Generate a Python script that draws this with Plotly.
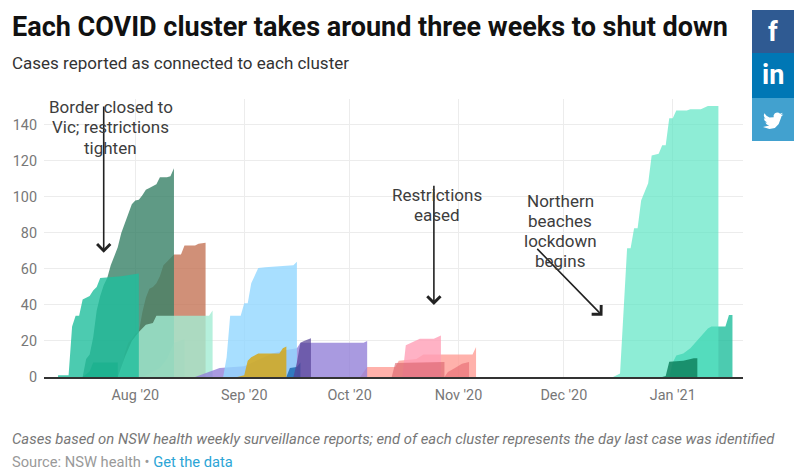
import plotly.graph_objects as go

# Axis ticks
month_ticks = ['2020-08-01', '2020-09-01', '2020-10-01', '2020-11-01', '2020-12-01', '2021-01-01']
month_labels = ["Aug '20", "Sep '20", "Oct '20", "Nov '20", "Dec '20", "Jan '21"]
case_ticks = [0, 20, 40, 60, 80, 100, 120, 140]

# Cases per cluster
teal_dates = ['2020-07-10', '2020-07-13', '2020-07-14', '2020-07-15', '2020-07-16', '2020-07-17', '2020-07-19', '2020-07-20', '2020-07-21', '2020-07-22', '2020-07-28', '2020-08-02']
teal_cases = [1, 1, 28, 34, 34, 43, 45, 48, 50, 55, 56, 57.5]

forest_dates = ['2020-07-17', '2020-07-18', '2020-07-19', '2020-07-20', '2020-07-21', '2020-07-22', '2020-07-23', '2020-07-24', '2020-07-25', '2020-07-26', '2020-07-27', '2020-07-28', '2020-07-29', '2020-07-30', '2020-07-31', '2020-08-01', '2020-08-02', '2020-08-03', '2020-08-04', '2020-08-05', '2020-08-06', '2020-08-07', '2020-08-08', '2020-08-09', '2020-08-10', '2020-08-11', '2020-08-12']
forest_cases = [0, 10, 12.5, 22, 37, 45, 51, 55, 62, 67, 72, 80, 85, 91, 96, 98, 98.5, 101, 104, 105, 106, 107, 111, 111, 111, 111.5, 116]

deep_dates = ['2020-07-17', '2020-07-19', '2020-07-20', '2020-07-27']
deep_cases = [0, 3, 8, 8]

salmon_dates = ['2020-07-27', '2020-07-28', '2020-07-29', '2020-07-30', '2020-07-31', '2020-08-01', '2020-08-02', '2020-08-03', '2020-08-04', '2020-08-05', '2020-08-06', '2020-08-07', '2020-08-08', '2020-08-09', '2020-08-10', '2020-08-11', '2020-08-12', '2020-08-14', '2020-08-15', '2020-08-18', '2020-08-19', '2020-08-21']
salmon_cases = [0, 3, 13, 19, 21, 24, 25, 36, 44, 49, 50, 52, 56, 62, 64, 66, 68, 68, 73, 73, 74, 74.5]

olive_dates = ['2020-08-03', '2020-08-08', '2020-08-10', '2020-08-12', '2020-08-15']
olive_cases = [0, 5, 10, 19, 21]

mint_dates = ['2020-07-27', '2020-07-29', '2020-07-31', '2020-08-02', '2020-08-04', '2020-08-06', '2020-08-07', '2020-08-22', '2020-08-23']
mint_cases = [0, 11, 20, 25, 29, 30, 34, 34, 37]

lavender_dates = ['2020-08-18', '2020-08-22', '2020-08-25', '2020-09-01', '2020-09-09', '2020-09-13', '2020-09-16', '2020-09-17', '2020-10-05', '2020-10-06']
lavender_cases = [0, 3, 5, 6, 13, 15, 16, 19, 19, 20]

sky_dates = ['2020-08-26', '2020-08-27', '2020-08-28', '2020-08-31', '2020-09-01', '2020-09-02', '2020-09-03', '2020-09-05', '2020-09-07', '2020-09-15', '2020-09-16']
sky_cases = [0, 11, 34, 34, 41, 41, 52, 60.5, 61, 62, 64]

gold_dates = ['2020-08-30', '2020-09-01', '2020-09-02', '2020-09-03', '2020-09-05', '2020-09-11', '2020-09-12', '2020-09-13']
gold_cases = [0, 1, 9, 11, 13, 13, 16, 17]

blue_dates = ['2020-09-13', '2020-09-14', '2020-09-16', '2020-09-17']
blue_cases = [0, 5, 5.5, 8]

plum_dates = ['2020-09-15', '2020-09-16', '2020-09-17', '2020-09-18', '2020-09-20']
plum_cases = [0, 8, 19, 20, 21.5]

rose_dates = ['2020-10-04', '2020-10-06', '2020-10-14', '2020-10-15', '2020-10-20', '2020-10-22', '2020-11-05', '2020-11-06']
rose_cases = [0, 5.5, 5.5, 9, 10, 12.5, 12.5, 16.7]

pink_dates = ['2020-10-16', '2020-10-17', '2020-10-21', '2020-10-25', '2020-10-27']
pink_cases = [0, 17.6, 21.3, 21.3, 23]

red_dates = ['2020-10-13', '2020-10-14', '2020-10-28']
red_cases = [0, 7.8, 8.3]

coral_dates = ['2020-10-28', '2020-10-29', '2020-10-31', '2020-11-02', '2020-11-04']
coral_cases = [0, 2.8, 5, 7.4, 8.3]

green_dates = ['2020-12-31', '2021-01-01', '2021-01-02', '2021-01-04', '2021-01-06', '2021-01-08', '2021-01-11', '2021-01-12', '2021-01-16', '2021-01-17', '2021-01-18']
green_cases = [0, 8, 12, 13, 16, 20.5, 27, 28, 28, 34.4, 34.4]

aqua_dates = ['2020-12-15', '2020-12-17', '2020-12-19', '2020-12-20', '2020-12-21', '2020-12-22', '2020-12-23', '2020-12-25', '2020-12-26', '2020-12-28', '2020-12-29', '2020-12-30', '2020-12-31', '2021-01-01', '2021-01-02', '2021-01-05', '2021-01-06', '2021-01-09', '2021-01-11', '2021-01-14']
aqua_cases = [0, 2, 71.5, 71.5, 82.6, 82.6, 98, 107.6, 123, 124, 128.7, 128.7, 143.7, 143.7, 148, 148, 148.7, 148.7, 150.5, 150.5]

pine_dates = ['2020-12-29', '2020-12-30', '2020-12-31', '2021-01-04', '2021-01-07', '2021-01-08']
pine_cases = [0, 0.5, 8.5, 9, 10.4, 10.4]

# Arrows and their notes
note_texts = ['Border closed to<br>Vic; restrictions<br>tighten', 'Restrictions<br>eased', 'Northern<br>beaches<br>lockdown<br>begins']
note_dates = ['2020-07-25', '2020-10-26', '2020-11-30']
note_cases = [150, 101, 98]
arrow_tail_dates = ['2020-07-23', '2020-10-25', '2020-11-23']
arrow_tail_cases = [151, 107, 72]
arrow_head_dates = ['2020-07-23', '2020-10-25', '2020-12-12']
arrow_head_cases = [69, 40, 34]

# Draw order and fill of each cluster
clusters = [
    (salmon_dates, salmon_cases, 'rgba(196,116,86,0.8)'),
    (forest_dates, forest_cases, 'rgba(55,129,102,0.8)'),
    (olive_dates, olive_cases, 'rgba(140,140,110,0.35)'),
    (mint_dates, mint_cases, 'rgba(162,236,211,0.8)'),
    (deep_dates, deep_cases, 'rgba(14,124,91,0.85)'),
    (teal_dates, teal_cases, 'rgba(31,190,156,0.8)'),
    (rose_dates, rose_cases, 'rgba(255,158,150,0.8)'),
    (lavender_dates, lavender_cases, 'rgba(148,129,216,0.8)'),
    (sky_dates, sky_cases, 'rgba(146,215,255,0.8)'),
    (blue_dates, blue_cases, 'rgba(16,96,170,0.75)'),
    (gold_dates, gold_cases, 'rgba(216,164,10,0.8)'),
    (plum_dates, plum_cases, 'rgba(85,66,150,0.7)'),
    (pink_dates, pink_cases, 'rgba(255,159,182,0.8)'),
    (red_dates, red_cases, 'rgba(217,96,106,0.6)'),
    (coral_dates, coral_cases, 'rgba(225,90,100,0.5)'),
    (green_dates, green_cases, 'rgba(31,190,156,0.8)'),
    (aqua_dates, aqua_cases, 'rgba(89,228,195,0.68)'),
    (pine_dates, pine_cases, 'rgba(15,130,95,0.85)'),
]

# Create the figure with one filled area per cluster
fig = go.Figure()
for dates, cases, fill in clusters:
    fig.add_trace(go.Scatter(
        x=dates,
        y=cases,
        mode='lines',
        line=dict(width=0),
        fill='tozeroy',
        fillcolor=fill,
        showlegend=False
    ))

# Customize the layout
fig.update_layout(
    width=800,
    height=476,
    margin=dict(l=0, r=0, t=0, b=0),
    plot_bgcolor='white',
    paper_bgcolor='white',
    font=dict(family='Roboto', color='#777777', size=14.4),
    xaxis=dict(
        domain=[44 / 800, 743 / 800],
        automargin=False,
        type='date',
        range=['2020-07-06', '2021-01-21'],
        tickvals=month_ticks,
        ticktext=month_labels,
        ticks='',
        ticklabelstandoff=4,
        showgrid=True,
        gridcolor='#ececec',
        gridwidth=1.2,
        showline=True,
        linecolor='#333333',
        linewidth=2,
        zeroline=False
    ),
    yaxis=dict(
        domain=[99 / 476, 377 / 476],
        automargin=False,
        range=[0, 154.4],
        tickvals=case_ticks,
        ticks='',
        ticklabelstandoff=6,
        showgrid=True,
        gridcolor='#ececec',
        gridwidth=1.2,
        zeroline=False
    ),
)

# Heading and footer
fig.add_annotation(xref='paper', yref='paper', x=10 / 800, y=1 - 27 / 476, xanchor='left', yanchor='middle',
                   text='<b>Each COVID cluster takes around three weeks to shut down</b>', showarrow=False,
                   font=dict(size=27, color='#111111'))
fig.add_annotation(xref='paper', yref='paper', x=10 / 800, y=1 - 63 / 476, xanchor='left', yanchor='middle',
                   text='Cases reported as connected to each cluster', showarrow=False,
                   font=dict(size=17, color='#333333'))
fig.add_annotation(xref='paper', yref='paper', x=10 / 800, y=1 - 439 / 476, xanchor='left', yanchor='middle',
                   text='<i>Cases based on NSW health weekly surveillance reports; end of each cluster represents the day last case was identified</i>',
                   showarrow=False, font=dict(size=14.85, color='#777777'))
fig.add_annotation(xref='paper', yref='paper', x=10 / 800, y=1 - 462 / 476, xanchor='left', yanchor='middle',
                   text='Source: NSW health • <span style="color:#2ba5d6">Get the data</span>', showarrow=False,
                   font=dict(size=14.7, color='#999999'))

# Add the arrows first, the notes over them, one line at a time
for i in range(len(note_texts)):
    fig.add_annotation(
        x=arrow_head_dates[i],
        y=arrow_head_cases[i],
        ax=arrow_tail_dates[i],
        ay=arrow_tail_cases[i],
        axref='x',
        ayref='y',
        text='',
        showarrow=True,
        arrowhead=4,
        arrowsize=1.6,
        arrowwidth=1.6,
        arrowcolor='#222222'
    )
    for j, line in enumerate(note_texts[i].split('<br>')):
        fig.add_annotation(
            x=note_dates[i],
            y=note_cases[i],
            yshift=-20.3 * j,
            text=line,
            showarrow=False,
            font=dict(size=17, color='#3d3d3d')
        )

# Share buttons
button_colors = ['#2f5a92', '#0077b5', '#42a1cf']
button_tops = [10, 53, 98]
button_bottoms = [53, 98, 141]
for i in range(3):
    fig.add_shape(type='rect', xref='paper', yref='paper', x0=752 / 800, x1=794 / 800,
                  y0=1 - button_tops[i] / 476, y1=1 - button_bottoms[i] / 476,
                  fillcolor=button_colors[i], line=dict(width=0))
fig.add_annotation(xref='paper', yref='paper', x=773 / 800, y=1 - 32 / 476, xanchor='center', yanchor='middle',
                   text='<b>f</b>', showarrow=False, font=dict(size=27, color='white'))
fig.add_annotation(xref='paper', yref='paper', x=773 / 800, y=1 - 75 / 476, xanchor='center', yanchor='middle',
                   text='<b>in</b>', showarrow=False, font=dict(size=27, color='white'))

# Bird on the last button
bird = [(23.95, 4.57), (21.13, 5.34), (23.29, 2.62), (20.17, 3.79), (18.6, 2.7), (16.5, 2.25), (14, 3.3), (12.5, 5.5),
        (12.55, 8), (7.69, 8.09), (4.07, 6.13), (1.64, 3.16), (0.97, 5.63), (1.5, 7.9), (3.16, 9.73), (0.93, 9.12),
        (2, 12), (4.88, 14.01), (2.67, 14.09), (4.5, 16.5), (7.27, 17.51), (0, 19.54), (7.56, 21.75), (14, 20.5),
        (18.5, 16), (21.56, 7.77), (21.54, 7.14)]
path = 'M' + 'L'.join(f'{763 + px * 0.85:.1f},{-(110.5 + py * 0.85):.1f}' for px, py in bird) + 'Z'
fig.add_shape(type='path', xref='paper', yref='paper', xsizemode='pixel', ysizemode='pixel', xanchor=0, yanchor=1,
              path=path, fillcolor='white', line=dict(width=0))

# Write the page, with no gap around the figure
fig.write_html("out.html", config={'displayModeBar': False}, post_script="document.body.style.margin='0';")
